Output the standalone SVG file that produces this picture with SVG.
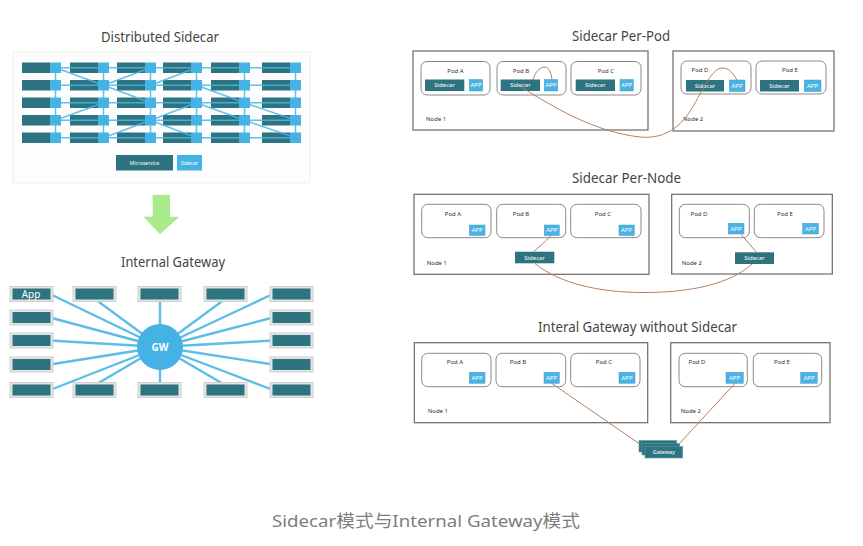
<svg xmlns="http://www.w3.org/2000/svg" width="863" height="546" viewBox="0 0 863 546">
<defs>
<style>
.title{font-family:"Noto Sans","Open Sans","Liberation Sans",sans-serif;font-size:13.5px;fill:#454545;text-anchor:middle}
.cap{font-family:"Noto Sans","Noto Sans CJK SC",sans-serif;font-size:17px;fill:#7d7d7d;text-anchor:middle}
.dk{fill:#2d7380}
.lb{fill:#47b3e4}
.grid line{stroke:#4cb6e6;stroke-width:1.5}
.gwl line{stroke:#5cbde8;stroke-width:2.4}
.ob{fill:#e4e4e4;stroke:#cfcfcf;stroke-width:1}
.node{fill:#fff;stroke:#6a6a6a;stroke-width:1.2}
.pod{fill:#fff;stroke:#8a8a8a;stroke-width:1}
.app{fill:#4ab3e3;stroke:#3a9fcf;stroke-width:0.5}
.sc{fill:#2d7380}
.s{font-family:"Noto Sans","Liberation Sans",sans-serif;font-size:6px;fill:#333;text-anchor:middle}
.sl{font-family:"Noto Sans","Liberation Sans",sans-serif;font-size:6px;fill:#333}
.w{font-family:"Noto Sans","Liberation Sans",sans-serif;font-size:6px;fill:#fff;text-anchor:middle}
.curve{fill:none;stroke:#b5805e;stroke-width:1}
</style>
</defs>
<rect width="863" height="546" fill="#fff"/>

<!-- Distributed Sidecar -->
<g id="distributed">
<text class="title" x="160" y="41.5" textLength="118" lengthAdjust="spacingAndGlyphs">Distributed Sidecar</text>
<rect x="13" y="52" width="297" height="131" fill="#fdfdfd" stroke="#eeeeee"/>
<g class="dk">
<rect x="22" y="62.5" width="28" height="10.5"/><rect x="70" y="62.5" width="28" height="10.5"/><rect x="117" y="62.5" width="28" height="10.5"/><rect x="163" y="62.5" width="28" height="10.5"/><rect x="211" y="62.5" width="28" height="10.5"/><rect x="262" y="62.5" width="28" height="10.5"/>
<rect x="22" y="80" width="28" height="10.5"/><rect x="70" y="80" width="28" height="10.5"/><rect x="117" y="80" width="28" height="10.5"/><rect x="163" y="80" width="28" height="10.5"/><rect x="211" y="80" width="28" height="10.5"/><rect x="262" y="80" width="28" height="10.5"/>
<rect x="22" y="97.5" width="28" height="10.5"/><rect x="70" y="97.5" width="28" height="10.5"/><rect x="117" y="97.5" width="28" height="10.5"/><rect x="163" y="97.5" width="28" height="10.5"/><rect x="211" y="97.5" width="28" height="10.5"/><rect x="262" y="97.5" width="28" height="10.5"/>
<rect x="22" y="115" width="28" height="10.5"/><rect x="70" y="115" width="28" height="10.5"/><rect x="117" y="115" width="28" height="10.5"/><rect x="163" y="115" width="28" height="10.5"/><rect x="211" y="115" width="28" height="10.5"/><rect x="262" y="115" width="28" height="10.5"/>
<rect x="22" y="132.5" width="28" height="10.5"/><rect x="70" y="132.5" width="28" height="10.5"/><rect x="117" y="132.5" width="28" height="10.5"/><rect x="163" y="132.5" width="28" height="10.5"/><rect x="211" y="132.5" width="28" height="10.5"/><rect x="262" y="132.5" width="28" height="10.5"/>
</g>
<g class="grid" opacity="0.85">
<line x1="55.5" y1="67.75" x2="295.5" y2="67.75"/>
<line x1="55.5" y1="85.25" x2="295.5" y2="85.25"/>
<line x1="55.5" y1="102.75" x2="295.5" y2="102.75"/>
<line x1="55.5" y1="120.25" x2="295.5" y2="120.25"/>
<line x1="55.5" y1="137.75" x2="295.5" y2="137.75"/>
<line x1="55.5" y1="67.75" x2="55.5" y2="137.75"/>
<line x1="103.5" y1="67.75" x2="103.5" y2="137.75"/>
<line x1="150.5" y1="67.75" x2="150.5" y2="137.75"/>
<line x1="196.5" y1="67.75" x2="196.5" y2="137.75"/>
<line x1="244.5" y1="67.75" x2="244.5" y2="137.75"/>
<line x1="295.5" y1="67.75" x2="295.5" y2="137.75"/>
<line x1="55.5" y1="67.75" x2="103.5" y2="85.25"/>
<line x1="103.5" y1="85.25" x2="150.5" y2="102.75"/>
<line x1="103.5" y1="85.25" x2="150.5" y2="67.75"/>
<line x1="150.5" y1="85.25" x2="196.5" y2="67.75"/>
<line x1="196.5" y1="85.25" x2="244.5" y2="102.75"/>
<line x1="244.5" y1="102.75" x2="295.5" y2="120.25"/>
<line x1="55.5" y1="120.25" x2="103.5" y2="102.75"/>
<line x1="103.5" y1="137.75" x2="150.5" y2="120.25"/>
<line x1="150.5" y1="120.25" x2="196.5" y2="137.75"/>
<line x1="150.5" y1="120.25" x2="196.5" y2="102.75"/>
<line x1="196.5" y1="102.75" x2="244.5" y2="120.25"/>
<line x1="244.5" y1="120.25" x2="295.5" y2="137.75"/>
</g>
<g class="lb">
<rect x="50" y="62.5" width="11" height="10.5"/><rect x="98" y="62.5" width="11" height="10.5"/><rect x="145" y="62.5" width="11" height="10.5"/><rect x="191" y="62.5" width="11" height="10.5"/><rect x="239" y="62.5" width="11" height="10.5"/><rect x="290" y="62.5" width="11" height="10.5"/>
<rect x="50" y="80" width="11" height="10.5"/><rect x="98" y="80" width="11" height="10.5"/><rect x="145" y="80" width="11" height="10.5"/><rect x="191" y="80" width="11" height="10.5"/><rect x="239" y="80" width="11" height="10.5"/><rect x="290" y="80" width="11" height="10.5"/>
<rect x="50" y="97.5" width="11" height="10.5"/><rect x="98" y="97.5" width="11" height="10.5"/><rect x="145" y="97.5" width="11" height="10.5"/><rect x="191" y="97.5" width="11" height="10.5"/><rect x="239" y="97.5" width="11" height="10.5"/><rect x="290" y="97.5" width="11" height="10.5"/>
<rect x="50" y="115" width="11" height="10.5"/><rect x="98" y="115" width="11" height="10.5"/><rect x="145" y="115" width="11" height="10.5"/><rect x="191" y="115" width="11" height="10.5"/><rect x="239" y="115" width="11" height="10.5"/><rect x="290" y="115" width="11" height="10.5"/>
<rect x="50" y="132.5" width="11" height="10.5"/><rect x="98" y="132.5" width="11" height="10.5"/><rect x="145" y="132.5" width="11" height="10.5"/><rect x="191" y="132.5" width="11" height="10.5"/><rect x="239" y="132.5" width="11" height="10.5"/><rect x="290" y="132.5" width="11" height="10.5"/>
</g>
<g id="legend">
<rect class="dk" x="116" y="155" width="57" height="15.5"/>
<text class="w" x="144.5" y="164.8" style="font-size:5px">Microservice</text>
<rect class="lb" x="177" y="155" width="25" height="15.5"/>
<text class="w" x="189.5" y="164.8" style="font-size:5px">Sidecar</text>
</g>
</g>

<g id="arrow">
<polygon points="152.7,195 170,195 170,216.7 179.3,216.7 160,234.3 143.3,216.7 152.7,216.7" fill="#a9eb8b"/>
</g>

<!-- Internal Gateway -->
<g id="internal-gateway">
<text class="title" x="173" y="266.5" textLength="104" lengthAdjust="spacingAndGlyphs">Internal Gateway</text>
<g class="gwl">
<line x1="50" y1="294" x2="160" y2="347"/>
<line x1="50" y1="317.5" x2="160" y2="347"/>
<line x1="50" y1="340.5" x2="160" y2="347"/>
<line x1="50" y1="364.5" x2="160" y2="347"/>
<line x1="50" y1="390" x2="160" y2="347"/>
<line x1="273" y1="294" x2="160" y2="347"/>
<line x1="273" y1="317.5" x2="160" y2="347"/>
<line x1="273" y1="340.5" x2="160" y2="347"/>
<line x1="273" y1="364.5" x2="160" y2="347"/>
<line x1="273" y1="390" x2="160" y2="347"/>
<line x1="95" y1="299" x2="160" y2="347"/>
<line x1="160" y1="299" x2="160" y2="347"/>
<line x1="225" y1="299" x2="160" y2="347"/>
<line x1="95" y1="385" x2="160" y2="347"/>
<line x1="160" y1="385" x2="160" y2="347"/>
<line x1="225" y1="385" x2="160" y2="347"/>
</g>
<g id="gw-boxes">
<rect class="ob" x="10" y="286.5" width="43" height="15"/><rect class="dk" x="12.5" y="288.5" width="38" height="11"/>
<rect class="ob" x="10" y="310" width="43" height="15"/><rect class="dk" x="12.5" y="312" width="38" height="11"/>
<rect class="ob" x="10" y="333" width="43" height="15"/><rect class="dk" x="12.5" y="335" width="38" height="11"/>
<rect class="ob" x="10" y="357" width="43" height="15"/><rect class="dk" x="12.5" y="359" width="38" height="11"/>
<rect class="ob" x="10" y="382.5" width="43" height="15"/><rect class="dk" x="12.5" y="384.5" width="38" height="11"/>
<rect class="ob" x="270" y="286.5" width="43" height="15"/><rect class="dk" x="272.5" y="288.5" width="38" height="11"/>
<rect class="ob" x="270" y="310" width="43" height="15"/><rect class="dk" x="272.5" y="312" width="38" height="11"/>
<rect class="ob" x="270" y="333" width="43" height="15"/><rect class="dk" x="272.5" y="335" width="38" height="11"/>
<rect class="ob" x="270" y="357" width="43" height="15"/><rect class="dk" x="272.5" y="359" width="38" height="11"/>
<rect class="ob" x="270" y="382.5" width="43" height="15"/><rect class="dk" x="272.5" y="384.5" width="38" height="11"/>
<rect class="ob" x="73" y="286.5" width="43" height="15"/><rect class="dk" x="75.5" y="288.5" width="38" height="11"/>
<rect class="ob" x="138" y="286.5" width="43" height="15"/><rect class="dk" x="140.5" y="288.5" width="38" height="11"/>
<rect class="ob" x="204" y="286.5" width="43" height="15"/><rect class="dk" x="206.5" y="288.5" width="38" height="11"/>
<rect class="ob" x="73" y="382.5" width="43" height="15"/><rect class="dk" x="75.5" y="384.5" width="38" height="11"/>
<rect class="ob" x="138" y="382.5" width="43" height="15"/><rect class="dk" x="140.5" y="384.5" width="38" height="11"/>
<rect class="ob" x="204" y="382.5" width="43" height="15"/><rect class="dk" x="206.5" y="384.5" width="38" height="11"/>
<text x="31" y="298" style="font-family:'Noto Sans','Liberation Sans',sans-serif;font-size:10px;fill:#fff;text-anchor:middle">App</text>
</g>
<g id="gw">
<circle cx="160" cy="347" r="23" fill="#45b2e5"/>
<text x="160" y="350.5" style="font-family:'Noto Sans','Liberation Sans',sans-serif;font-size:10px;font-weight:bold;fill:#fff;text-anchor:middle">GW</text>
</g>
</g>

<!-- Sidecar Per-Pod -->
<g id="per-pod">
<text class="title" x="621" y="41" textLength="98" lengthAdjust="spacingAndGlyphs">Sidecar Per-Pod</text>
<g id="pp-node1">
<rect class="node" x="413" y="51" width="235" height="79"/>
<text class="sl" x="426" y="121">Node 1</text>
<rect class="pod" x="421" y="61.5" width="69" height="33.5" rx="6"/><text class="s" x="455.5" y="72.5">Pod A</text>
<rect class="sc" x="425" y="79.5" width="39.3" height="11.5"/><text class="w" x="444.6" y="87.3">Sidecar</text>
<rect class="app" x="469.3" y="79.5" width="13.4" height="11.5"/><text class="w" x="476" y="87.3">APP</text>
<rect class="pod" x="497" y="61.5" width="69" height="33.5" rx="6"/><text class="s" x="521" y="72.5">Pod B</text>
<rect class="sc" x="500.7" y="79.5" width="39.3" height="11.5"/><text class="w" x="520.3" y="87.3">Sidecar</text>
<rect class="app" x="544.3" y="79.5" width="13.4" height="11.5"/><text class="w" x="551" y="87.3">APP</text>
<rect class="pod" x="571" y="61.5" width="70" height="33.5" rx="6"/><text class="s" x="606" y="72.5">Pod C</text>
<rect class="sc" x="575.7" y="79.5" width="39.3" height="11.5"/><text class="w" x="595.3" y="87.3">Sidecar</text>
<rect class="app" x="620" y="79.5" width="13.4" height="11.5"/><text class="w" x="626.7" y="87.3">APP</text>
</g>
<g id="pp-node2">
<rect class="node" x="673" y="51" width="161" height="80"/>
<text class="sl" x="683" y="121">Node 2</text>
<rect class="pod" x="681" y="61" width="70" height="33" rx="6"/><text class="s" x="700" y="72">Pod D</text>
<rect class="sc" x="686" y="80" width="38" height="11.5"/><text class="w" x="705" y="87.8">Sidecar</text>
<rect class="app" x="729.3" y="80" width="15.7" height="11.5"/><text class="w" x="737.1" y="87.8">APP</text>
<rect class="pod" x="756" y="61" width="70" height="33" rx="6"/><text class="s" x="790" y="72">Pod E</text>
<rect class="sc" x="760" y="80" width="39" height="11.5"/><text class="w" x="779.5" y="87.8">Sidecar</text>
<rect class="app" x="804.3" y="80" width="16.7" height="11.5"/><text class="w" x="812.6" y="87.8">APP</text>
</g>
</g>

<!-- Sidecar Per-Node -->
<g id="per-node">
<text class="title" x="626.5" y="183" textLength="109" lengthAdjust="spacingAndGlyphs">Sidecar Per-Node</text>
<g id="pn-node1">
<rect class="node" x="414" y="194.3" width="235" height="80"/>
<text class="sl" x="426.7" y="265.3">Node 1</text>
<rect class="pod" x="421.7" y="204.3" width="69.3" height="33.4" rx="6"/><text class="s" x="453" y="215.5">Pod A</text>
<rect class="app" x="469.3" y="225" width="15.7" height="10.5"/><text class="w" x="477.1" y="232.3">APP</text>
<rect class="pod" x="496.7" y="204.3" width="69" height="33.4" rx="6"/><text class="s" x="521" y="215.5">Pod B</text>
<rect class="app" x="544.3" y="225" width="15" height="10.5"/><text class="w" x="551.8" y="232.3">APP</text>
<rect class="pod" x="570.7" y="204.3" width="70.3" height="33.4" rx="6"/><text class="s" x="603" y="215.5">Pod C</text>
<rect class="app" x="619" y="225" width="15.3" height="10.5"/><text class="w" x="626.6" y="232.3">APP</text>
<rect class="sc" x="515" y="251.7" width="39.3" height="11.6"/><text class="w" x="534.6" y="259.5">Sidecar</text>
</g>
<g id="pn-node2">
<rect class="node" x="671.7" y="194.3" width="160.6" height="79.7"/>
<text class="sl" x="681.7" y="265.3">Node 2</text>
<rect class="pod" x="679.3" y="204.3" width="70" height="33.4" rx="6"/><text class="s" x="699" y="215.5">Pod D</text>
<rect class="app" x="728.3" y="223.3" width="15.7" height="10.7"/><text class="w" x="736.1" y="230.7">APP</text>
<rect class="pod" x="754.3" y="204.3" width="69.7" height="33.4" rx="6"/><text class="s" x="785" y="215.5">Pod E</text>
<rect class="app" x="802.7" y="223.3" width="15.7" height="10.7"/><text class="w" x="810.5" y="230.7">APP</text>
<rect class="sc" x="735" y="252.3" width="39" height="11.7"/><text class="w" x="754.5" y="260.1">Sidecar</text>
</g>
</g>

<!-- Interal Gateway without Sidecar -->
<g id="no-sidecar">
<text class="title" x="637.5" y="332" textLength="199" lengthAdjust="spacingAndGlyphs">Interal Gateway without Sidecar</text>
<g id="ig-node1">
<rect class="node" x="414.3" y="342.7" width="233.4" height="80"/>
<text class="sl" x="427.7" y="413">Node 1</text>
<rect class="pod" x="421.7" y="353.3" width="69.3" height="33.4" rx="6"/><text class="s" x="455" y="364.3">Pod A</text>
<rect class="app" x="469.3" y="372.3" width="15.7" height="11"/><text class="w" x="477.1" y="379.8">APP</text>
<rect class="pod" x="496" y="353.3" width="69.7" height="33.4" rx="6"/><text class="s" x="518" y="364.3">Pod B</text>
<rect class="app" x="544" y="372.3" width="15.3" height="11"/><text class="w" x="551.6" y="379.8">APP</text>
<rect class="pod" x="570.7" y="353.3" width="69.3" height="33.4" rx="6"/><text class="s" x="604" y="364.3">Pod C</text>
<rect class="app" x="619" y="372.3" width="16" height="11"/><text class="w" x="627" y="379.8">APP</text>
</g>
<g id="ig-node2">
<rect class="node" x="670.7" y="342.7" width="159.3" height="80"/>
<text class="sl" x="680.7" y="413">Node 2</text>
<rect class="pod" x="679" y="353.3" width="68.3" height="33.4" rx="6"/><text class="s" x="697" y="364.3">Pod D</text>
<rect class="app" x="726" y="372.3" width="17.3" height="11"/><text class="w" x="734.6" y="379.8">APP</text>
<rect class="pod" x="753.3" y="353.3" width="68.4" height="33.4" rx="6"/><text class="s" x="782" y="364.3">Pod E</text>
<rect class="app" x="800.7" y="372.3" width="16.6" height="11"/><text class="w" x="809" y="379.8">APP</text>
</g>
<g id="gateway">
<rect x="639" y="440.5" width="37.7" height="11.5" fill="#2d7380" stroke="#5a9aa5" stroke-width="0.6"/>
<rect x="642" y="443.5" width="37.7" height="11.5" fill="#2d7380" stroke="#5a9aa5" stroke-width="0.6"/>
<rect x="645" y="446.5" width="37.7" height="11.5" fill="#2d7380" stroke="#5a9aa5" stroke-width="0.6"/>
<text class="w" x="663.8" y="454.2" style="font-size:5.5px">Gateway</text>
</g>
</g>

<!-- connectors -->
<g id="connectors">
<path class="curve" d="M533,80 C535,72 540,67 545,67 C549,67 551,73 552,79.5"/>
<path class="curve" d="M521,87 C555,108 595,132 640,137 C662,139 678,130 691,110 C703,90 712,68 722,68 C730,68 734,75 737,80"/>
<path class="curve" d="M551,235.5 C545,242 539,247 533.5,251.7"/>
<path class="curve" d="M741,234.3 C746,240 751,246 756.5,252.3"/>
<path class="curve" d="M535,263.5 C560,284 600,292 640,292.5 C690,293 730,284 752,264"/>
<line class="curve" x1="551.7" y1="383.3" x2="639" y2="443.5"/>
<line class="curve" x1="735" y1="383.3" x2="679.5" y2="443.5"/>
</g>

<text class="cap" x="426" y="527" textLength="308" lengthAdjust="spacingAndGlyphs">Sidecar模式与Internal Gateway模式</text>
</svg>
